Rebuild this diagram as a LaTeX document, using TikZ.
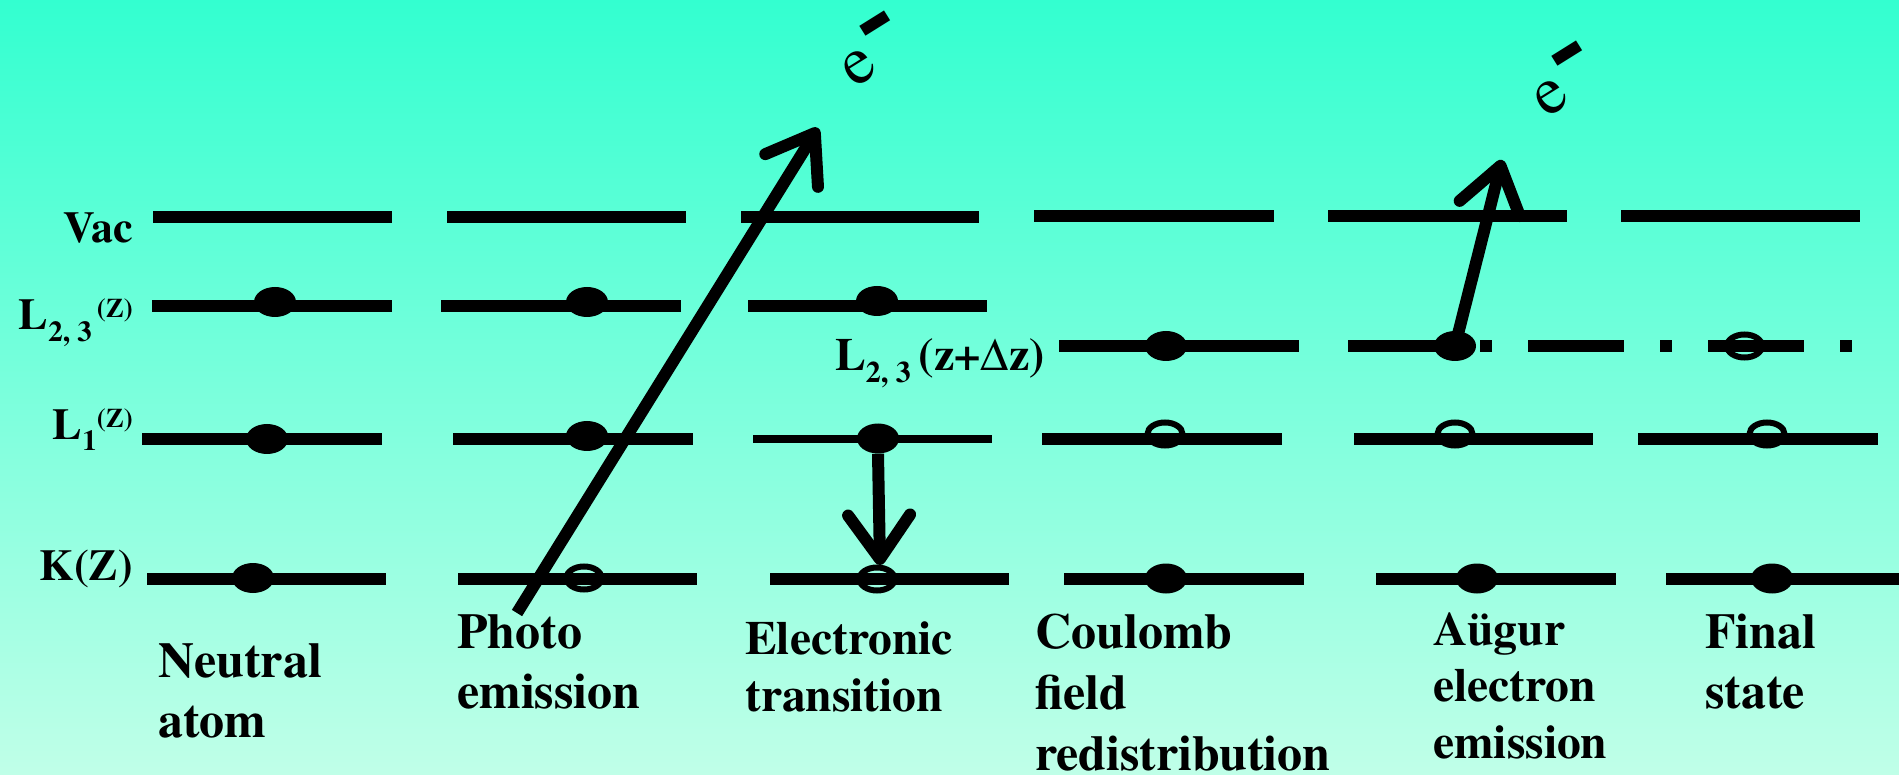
\documentclass[tikz,border=0pt]{standalone}
\usepackage[T1]{fontenc}
\usepackage{mathptmx}
\usetikzlibrary{arrows.meta,calc,shapes.geometric}
\definecolor{bgtop}{RGB}{51,255,208}
\definecolor{bgbot}{RGB}{192,255,232}
\begin{document}
\begin{tikzpicture}[x=1pt,y=-1pt,
  level/.style={line width=12pt},
  thinlevel/.style={line width=8pt},
  elec/.style={ellipse, fill=black, minimum width=42pt, minimum height=30pt, inner sep=0pt},
  hole/.style={ellipse, draw=black, line width=6pt, minimum width=35pt, minimum height=23pt, inner sep=0pt},
  lab/.style={font={\bfseries\fontsize{50}{60}\selectfont}, inner sep=0pt, anchor=base west},
  side/.style={font={\bfseries\fontsize{44}{50}\selectfont}, inner sep=0pt, anchor=base east},
  arr/.style={line width=12pt, -{Straight Barb[length=44pt, width=62pt, round]}},
  elab/.style={font={\fontsize{68}{68}\selectfont}, inner sep=0pt, anchor=base west, rotate=32},
]
\useasboundingbox (0,0) rectangle (1899,775);
\fill[top color=bgtop, bottom color=bgbot] (0,0) rectangle (1899,775);

% ---- energy levels ----
% column 1
\draw[level] (153,216.7) -- (392,216.7);
\draw[level] (152,306) -- (392,306);
\draw[level] (142,439) -- (382,439);
\draw[level] (147,578.5) -- (386,578.5);
% column 2
\draw[level] (447,216.7) -- (686,216.7);
\draw[level] (441,306) -- (681,306);
\draw[level] (453,439) -- (693,439);
\draw[level] (458,578.5) -- (697,578.5);
% column 3
\draw[level] (741,216.7) -- (979,216.7);
\draw[level] (748,306) -- (987,306);
\draw[thinlevel] (753,439) -- (992,439);
\draw[level] (770,578.5) -- (1009,578.5);
% column 4
\draw[level] (1034,216.5) -- (1274,216.5);
\draw[level] (1059,346) -- (1299,346);
\draw[level] (1042,439) -- (1282,439);
\draw[level] (1064,578.5) -- (1304,578.5);
% column 5
\draw[level] (1328,216.5) -- (1567,216.5);
\draw[level, dash pattern=on 96pt off 36pt on 12pt off 36pt] (1348,346) -- (1852,346);
\draw[level] (1354,439) -- (1593,439);
\draw[level] (1376,578.5) -- (1616,578.5);
% column 6
\draw[level] (1621,216.5) -- (1860,216.5);
\draw[level] (1638,439) -- (1878,439);
\draw[level] (1666,578.5) -- (1899,578.5);

% ---- electrons and holes ----
\node[elec] (a1) at (275,302) {};
\node[elec] (a2) at (267,439) {};
\node[elec] (a3) at (253,578) {};
\node[elec] (b1) at (587,302) {};
\node[elec] (b2) at (587,436) {};
\node[hole] (b3) at (584,578) {};
\node[elec] (c1) at (877,301) {};
\node[elec] (c2) at (878,438.5) {};
\node[hole] (c3) at (877,579) {};
\node[elec] (d1) at (1166,346) {};
\node[hole] (d2) at (1165,434) {};
\node[elec] (d3) at (1166,578.5) {};
\node[elec] (f1) at (1455,346) {};
\node[hole] (f2) at (1455,434) {};
\node[elec] (f3) at (1477,578.5) {};
\node[hole] (g1) at (1744.5,346) {};
\node[hole] (g2) at (1767,434) {};
\node[elec] (g3) at (1772,578.5) {};

% ---- arrows ----
\coordinate (phstart) at (517,613);
\coordinate (phtip) at (818,128);
\draw[arr] (phstart) -- (phtip);
\coordinate (downtip) at (880,565);
\draw[arr] (c2.south) -- (downtip);
\coordinate (augtip) at (1502,160);
\draw[arr] (f1.center) -- (augtip);

% ---- electron labels ----
\node[elab] (e1) at (854.6,88.6) {e\hspace{2pt}\raisebox{21pt}{\scalebox{1.2}[1.0]{\bfseries\fontsize{100}{100}\selectfont -}}};
\node[elab] (e2) at (1546,118.3) {e\hspace{2pt}\raisebox{21pt}{\scalebox{1.2}[1.0]{\bfseries\fontsize{100}{100}\selectfont -}}};

% ---- side labels ----
\node[side] (vac) at (133,243) {Vac};
\node[side] (l23) at (133,330) {L\raisebox{-12pt}{\fontsize{29}{29}\selectfont 2, 3}\hspace{5pt}\raisebox{12pt}{\fontsize{27}{27}\selectfont (Z)}};
\node[side] (l1) at (133,440) {L\raisebox{-10pt}{\fontsize{29}{29}\selectfont 1}\raisebox{12pt}{\fontsize{27}{27}\selectfont (Z)}};
\node[side] (k) at (133,580) {K(Z)};
\node[inner sep=0pt, anchor=base west, font={\bfseries\fontsize{46}{50}\selectfont}] (l23z) at (835,370.7)
  {L\raisebox{-12pt}{\fontsize{30}{30}\selectfont 2, 3}\hspace{8pt}(z+$\Delta$z)};

% ---- bottom labels ----
\node[lab] (t1) at (158,677) {\begin{tabular}[t]{@{}l@{}}Neutral\\atom\end{tabular}};
\node[lab] (t2) at (457,648) {\begin{tabular}[t]{@{}l@{}}Photo\\emission\end{tabular}};
\node[lab, font={\bfseries\fontsize{47.5}{57.5}\selectfont}] (t3) at (745,654) {\begin{tabular}[t]{@{}l@{}}Electronic\\transition\end{tabular}};
\node[lab, font={\bfseries\fontsize{50}{61}\selectfont}] (t4) at (1035,648) {\begin{tabular}[t]{@{}l@{}}Coulomb\\field\\redistribution\end{tabular}};
\node[lab, font={\bfseries\fontsize{47.5}{56.5}\selectfont}] (t5) at (1433,645) {\begin{tabular}[t]{@{}l@{}}A\"ugur\\electron\\emission\end{tabular}};
\node[lab] (t6) at (1705,648) {\begin{tabular}[t]{@{}l@{}}Final\\state\end{tabular}};
\end{tikzpicture}
\end{document}
